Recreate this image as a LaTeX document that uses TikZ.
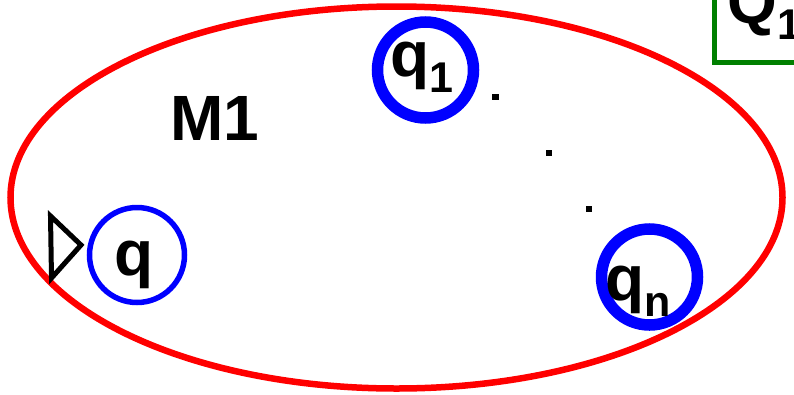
\documentclass[tikz,border=0pt]{standalone}
\usepackage{fontspec}
\setmainfont{Liberation Sans}
\usepackage{tikz}
\usetikzlibrary{positioning}
\definecolor{autgreen}{RGB}{0,128,0}
\newcommand{\sub}[1]{\raisebox{-16pt}{\fontsize{43}{45}\selectfont #1}}

\begin{document}
\begin{tikzpicture}[x=1pt, y=-1pt, line join=miter,
    lbl/.style={inner sep=0pt, anchor=base west, font=\bfseries\fontsize{64}{70}\selectfont},
    state/.style={circle, draw=blue, inner sep=0pt, minimum size=#1},
    dotmark/.style={rectangle, fill=black, inner sep=0pt, minimum size=6.5pt},
  ]
    \useasboundingbox (0,0) rectangle (794,394);
    \clip (0,0) rectangle (794,394);
    % machine
    \draw[red, line width=6.5pt] (396.5,197.5) ellipse [x radius=386, y radius=191];
    \node[lbl] (m1) at (170,140) {M1};
    % start state
    \node[state=95pt, line width=5.5pt] (q0) at (137,255) {};
    \node[lbl, xshift=-22.5pt, yshift=-20.6pt] (q0lbl) at (q0.center) {q};
    \draw[line width=5pt] (50.5,216) -- (81,245) -- (51.5,278) -- cycle;
    % other states
    \node[state=96pt, line width=11.5pt] (q1) at (425.5,70) {};
    \node[lbl, xshift=-35pt, yshift=-6.6pt] (q1lbl) at (q1.center) {q\sub{1}};
    \node[state=96pt, line width=11.5pt] (qn) at (649.5,277) {};
    \node[lbl, xshift=-44pt, yshift=-23pt] (qnlbl) at (qn.center) {q\sub{n}};
    \node[dotmark] (d1) at (495.5,97) {};
    \node[dotmark] (d2) at (549,153) {};
    \node[dotmark] (d3) at (589,209) {};
    % next machine
    \coordinate (Q1corner) at (714,62.5);
    \draw[autgreen, line width=5pt] (714,-10) -- (Q1corner) -- (810,62.5);
    \node[lbl] (Q1) at (727.5,23) {Q\sub{1}};
\end{tikzpicture}
\end{document}
